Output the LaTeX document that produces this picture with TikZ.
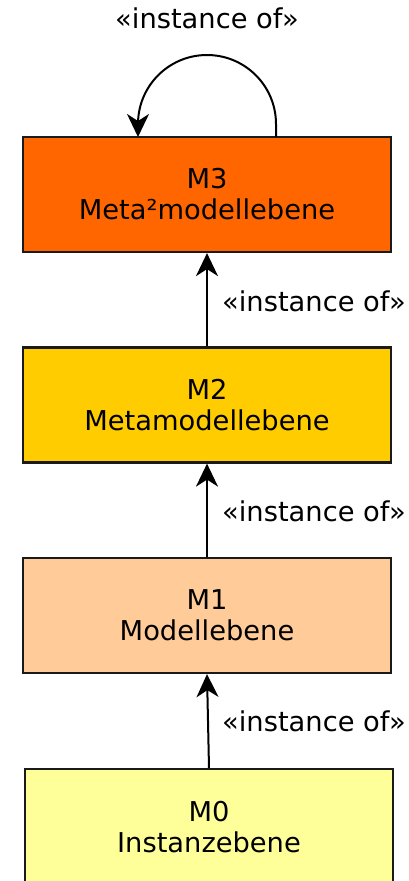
\documentclass[tikz,border=0pt]{standalone}
\usepackage{fontspec}
\setmainfont{DejaVu Sans}
\usetikzlibrary{arrows.meta}
\definecolor{cM3}{HTML}{FF6600}
\definecolor{cM2}{HTML}{FFCC00}
\definecolor{cM1}{HTML}{FFCC99}
\definecolor{cM0}{HTML}{FFFF99}
\definecolor{edge}{HTML}{1A1A1A}
\begin{document}
\begin{tikzpicture}[x=1pt,y=-1pt,
  level/.style={draw=edge,line width=2.2pt,minimum width=368pt,minimum height=115pt,inner sep=0pt,align=center,
    font=\fontsize{27.3}{31}\selectfont},
  conn/.style={line width=2pt,-{Stealth[length=23pt,width=22pt,inset=7pt]}},
  lbl/.style={inner sep=0pt,font=\fontsize{27.3}{31}\selectfont}]
\useasboundingbox (0,0) rectangle (409,881);
\clip (0,0) rectangle (409,881);
\node[level,fill=cM3] (m3) at (207,194.5) {M3\\Meta²modellebene};
\node[level,fill=cM2] (m2) at (207,405) {M2\\Metamodellebene};
\node[level,fill=cM1] (m1) at (207,615.5) {M1\\Modellebene};
\node[level,fill=cM0,anchor=north] (m0) at (209,768) {M0\\Instanzebene};
\draw[conn] (m2.north) -- (m3.south);
\draw[conn] (m1.north) -- (m2.south);
\draw[conn] (m0.north) -- (m1.south);
\coordinate (ls) at (276,137);
\coordinate (le) at (138,137);
\draw[conn] (ls) -- (276,124) arc[start angle=0,end angle=-180,radius=69] -- (le);
\node[lbl,anchor=base] (t3) at (207,28) {«instance of»};
\node[lbl,anchor=base west] (t2) at (222,311) {«instance of»};
\node[lbl,anchor=base west] (t1) at (222,521) {«instance of»};
\node[lbl,anchor=base west] (t0) at (222,731) {«instance of»};
\end{tikzpicture}
\end{document}
